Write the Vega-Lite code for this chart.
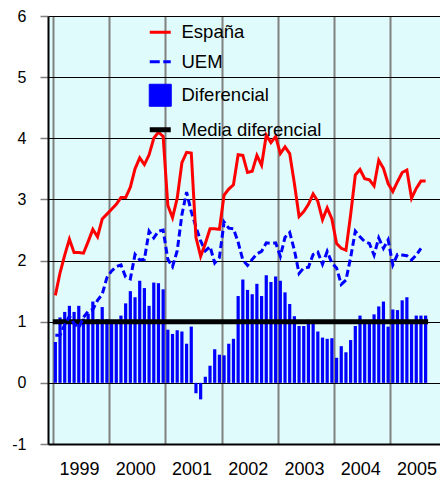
{
  "$schema": "https://vega.github.io/schema/vega-lite/v6.json",
  "width": 392,
  "height": 428,
  "autosize": {"type": "none"},
  "padding": {"left": 48, "top": 16, "right": 0, "bottom": 33},
  "background": "#ffffff",
  "config": {
    "view": {"fill": "#E0FBFB", "stroke": null},
    "font": "Liberation Sans",
    "legend": {"padding": 0}
  },
  "data": {
    "values": [
      {"fecha": "1999-01", "mes": 0, "espana": 1.43, "uem": 0.78, "dif": 0.67, "media": 1},
      {"fecha": "1999-02", "mes": 1, "espana": 1.8, "uem": 0.78, "dif": 1.07, "media": 1},
      {"fecha": "1999-03", "mes": 2, "espana": 2.09, "uem": 0.95, "dif": 1.16, "media": 1},
      {"fecha": "1999-04", "mes": 3, "espana": 2.35, "uem": 1.09, "dif": 1.26, "media": 1},
      {"fecha": "1999-05", "mes": 4, "espana": 2.13, "uem": 0.97, "dif": 1.16, "media": 1},
      {"fecha": "1999-06", "mes": 5, "espana": 2.13, "uem": 0.9, "dif": 1.26, "media": 1},
      {"fecha": "1999-07", "mes": 6, "espana": 2.12, "uem": 1.07, "dif": 1.05, "media": 1},
      {"fecha": "1999-08", "mes": 7, "espana": 2.31, "uem": 1.17, "dif": 1.13, "media": 1},
      {"fecha": "1999-09", "mes": 8, "espana": 2.51, "uem": 1.2, "dif": 1.33, "media": 1},
      {"fecha": "1999-10", "mes": 9, "espana": 2.39, "uem": 1.35, "dif": 1.04, "media": 1},
      {"fecha": "1999-11", "mes": 10, "espana": 2.68, "uem": 1.45, "dif": 1.24, "media": 1},
      {"fecha": "1999-12", "mes": 11, "espana": 2.76, "uem": 1.72, "dif": 1.04, "media": 1},
      {"fecha": "2000-01", "mes": 12, "espana": 2.84, "uem": 1.83, "dif": 1.03, "media": 1},
      {"fecha": "2000-02", "mes": 13, "espana": 2.92, "uem": 1.9, "dif": 1.03, "media": 1},
      {"fecha": "2000-03", "mes": 14, "espana": 3.03, "uem": 1.93, "dif": 1.1, "media": 1},
      {"fecha": "2000-04", "mes": 15, "espana": 3.03, "uem": 1.73, "dif": 1.3, "media": 1},
      {"fecha": "2000-05", "mes": 16, "espana": 3.2, "uem": 1.7, "dif": 1.5, "media": 1},
      {"fecha": "2000-06", "mes": 17, "espana": 3.5, "uem": 2.1, "dif": 1.4, "media": 1},
      {"fecha": "2000-07", "mes": 18, "espana": 3.68, "uem": 2.01, "dif": 1.67, "media": 1},
      {"fecha": "2000-08", "mes": 19, "espana": 3.57, "uem": 2.02, "dif": 1.55, "media": 1},
      {"fecha": "2000-09", "mes": 20, "espana": 3.73, "uem": 2.48, "dif": 1.26, "media": 1},
      {"fecha": "2000-10", "mes": 21, "espana": 4.0, "uem": 2.37, "dif": 1.64, "media": 1},
      {"fecha": "2000-11", "mes": 22, "espana": 4.1, "uem": 2.48, "dif": 1.63, "media": 1},
      {"fecha": "2000-12", "mes": 23, "espana": 4.03, "uem": 2.5, "dif": 1.53, "media": 1},
      {"fecha": "2001-01", "mes": 24, "espana": 2.9, "uem": 2.02, "dif": 0.87, "media": 1},
      {"fecha": "2001-02", "mes": 25, "espana": 2.7, "uem": 1.9, "dif": 0.8, "media": 1},
      {"fecha": "2001-03", "mes": 26, "espana": 3.02, "uem": 2.16, "dif": 0.86, "media": 1},
      {"fecha": "2001-04", "mes": 27, "espana": 3.6, "uem": 2.75, "dif": 0.84, "media": 1},
      {"fecha": "2001-05", "mes": 28, "espana": 3.77, "uem": 3.12, "dif": 0.64, "media": 1},
      {"fecha": "2001-06", "mes": 29, "espana": 3.76, "uem": 2.8, "dif": 0.92, "media": 1},
      {"fecha": "2001-07", "mes": 30, "espana": 2.38, "uem": 2.55, "dif": -0.17, "media": 1},
      {"fecha": "2001-08", "mes": 31, "espana": 2.07, "uem": 2.32, "dif": -0.27, "media": 1},
      {"fecha": "2001-09", "mes": 32, "espana": 2.28, "uem": 2.16, "dif": 0.1, "media": 1},
      {"fecha": "2001-10", "mes": 33, "espana": 2.52, "uem": 2.23, "dif": 0.28, "media": 1},
      {"fecha": "2001-11", "mes": 34, "espana": 2.52, "uem": 1.96, "dif": 0.55, "media": 1},
      {"fecha": "2001-12", "mes": 35, "espana": 2.51, "uem": 2.05, "dif": 0.46, "media": 1},
      {"fecha": "2002-01", "mes": 36, "espana": 3.07, "uem": 2.63, "dif": 0.45, "media": 1},
      {"fecha": "2002-02", "mes": 37, "espana": 3.17, "uem": 2.53, "dif": 0.64, "media": 1},
      {"fecha": "2002-03", "mes": 38, "espana": 3.24, "uem": 2.52, "dif": 0.72, "media": 1},
      {"fecha": "2002-04", "mes": 39, "espana": 3.73, "uem": 2.3, "dif": 1.42, "media": 1},
      {"fecha": "2002-05", "mes": 40, "espana": 3.72, "uem": 2.01, "dif": 1.69, "media": 1},
      {"fecha": "2002-06", "mes": 41, "espana": 3.44, "uem": 1.92, "dif": 1.52, "media": 1},
      {"fecha": "2002-07", "mes": 42, "espana": 3.46, "uem": 2.02, "dif": 1.45, "media": 1},
      {"fecha": "2002-08", "mes": 43, "espana": 3.72, "uem": 2.11, "dif": 1.62, "media": 1},
      {"fecha": "2002-09", "mes": 44, "espana": 3.56, "uem": 2.15, "dif": 1.42, "media": 1},
      {"fecha": "2002-10", "mes": 45, "espana": 4.05, "uem": 2.29, "dif": 1.76, "media": 1},
      {"fecha": "2002-11", "mes": 46, "espana": 3.93, "uem": 2.28, "dif": 1.65, "media": 1},
      {"fecha": "2002-12", "mes": 47, "espana": 4.03, "uem": 2.29, "dif": 1.74, "media": 1},
      {"fecha": "2003-01", "mes": 48, "espana": 3.75, "uem": 2.07, "dif": 1.67, "media": 1},
      {"fecha": "2003-02", "mes": 49, "espana": 3.86, "uem": 2.38, "dif": 1.48, "media": 1},
      {"fecha": "2003-03", "mes": 50, "espana": 3.75, "uem": 2.46, "dif": 1.29, "media": 1},
      {"fecha": "2003-04", "mes": 51, "espana": 3.26, "uem": 2.17, "dif": 1.09, "media": 1},
      {"fecha": "2003-05", "mes": 52, "espana": 2.72, "uem": 1.79, "dif": 0.93, "media": 1},
      {"fecha": "2003-06", "mes": 53, "espana": 2.8, "uem": 1.88, "dif": 0.93, "media": 1},
      {"fecha": "2003-07", "mes": 54, "espana": 2.92, "uem": 1.89, "dif": 1.03, "media": 1},
      {"fecha": "2003-08", "mes": 55, "espana": 3.09, "uem": 2.1, "dif": 1.01, "media": 1},
      {"fecha": "2003-09", "mes": 56, "espana": 2.97, "uem": 2.14, "dif": 0.84, "media": 1},
      {"fecha": "2003-10", "mes": 57, "espana": 2.67, "uem": 1.94, "dif": 0.74, "media": 1},
      {"fecha": "2003-11", "mes": 58, "espana": 2.86, "uem": 2.15, "dif": 0.72, "media": 1},
      {"fecha": "2003-12", "mes": 59, "espana": 2.68, "uem": 1.96, "dif": 0.73, "media": 1},
      {"fecha": "2004-01", "mes": 60, "espana": 2.28, "uem": 1.88, "dif": 0.41, "media": 1},
      {"fecha": "2004-02", "mes": 61, "espana": 2.2, "uem": 1.61, "dif": 0.6, "media": 1},
      {"fecha": "2004-03", "mes": 62, "espana": 2.17, "uem": 1.68, "dif": 0.5, "media": 1},
      {"fecha": "2004-04", "mes": 63, "espana": 2.75, "uem": 2.05, "dif": 0.7, "media": 1},
      {"fecha": "2004-05", "mes": 64, "espana": 3.4, "uem": 2.48, "dif": 0.93, "media": 1},
      {"fecha": "2004-06", "mes": 65, "espana": 3.49, "uem": 2.39, "dif": 1.1, "media": 1},
      {"fecha": "2004-07", "mes": 66, "espana": 3.34, "uem": 2.31, "dif": 1.03, "media": 1},
      {"fecha": "2004-08", "mes": 67, "espana": 3.32, "uem": 2.28, "dif": 1.03, "media": 1},
      {"fecha": "2004-09", "mes": 68, "espana": 3.22, "uem": 2.09, "dif": 1.12, "media": 1},
      {"fecha": "2004-10", "mes": 69, "espana": 3.64, "uem": 2.37, "dif": 1.25, "media": 1},
      {"fecha": "2004-11", "mes": 70, "espana": 3.51, "uem": 2.2, "dif": 1.33, "media": 1},
      {"fecha": "2004-12", "mes": 71, "espana": 3.26, "uem": 2.34, "dif": 0.92, "media": 1},
      {"fecha": "2005-01", "mes": 72, "espana": 3.13, "uem": 1.93, "dif": 1.2, "media": 1},
      {"fecha": "2005-02", "mes": 73, "espana": 3.29, "uem": 2.1, "dif": 1.19, "media": 1},
      {"fecha": "2005-03", "mes": 74, "espana": 3.44, "uem": 2.09, "dif": 1.35, "media": 1},
      {"fecha": "2005-04", "mes": 75, "espana": 3.48, "uem": 2.08, "dif": 1.4, "media": 1},
      {"fecha": "2005-05", "mes": 76, "espana": 3.02, "uem": 2.01, "dif": 1.01, "media": 1},
      {"fecha": "2005-06", "mes": 77, "espana": 3.18, "uem": 2.09, "dif": 1.1, "media": 1},
      {"fecha": "2005-07", "mes": 78, "espana": 3.3, "uem": 2.2, "dif": 1.1, "media": 1},
      {"fecha": "2005-08", "mes": 79, "espana": 3.3, "uem": null, "dif": 1.1, "media": 1}
    ]
  },
  "encoding": {
    "x": {
      "field": "mes",
      "type": "quantitative",
      "scale": {"domain": [-0.5, 81], "nice": false, "zero": false},
      "axis": {
        "title": null,
        "values": [-0.5, 11.5, 23.5, 35.5, 47.5, 59.5, 71.5],
        "grid": true,
        "gridColor": "#808080",
        "gridWidth": 2,
        "gridOpacity": 1,
        "ticks": false,
        "tickSize": 0,
        "domainColor": "#000000",
        "domainWidth": 2,
        "labelFont": "Liberation Sans",
        "labelFontSize": 18,
        "labelColor": "#000000",
        "labelPadding": 16,
        "labelOffset": 26,
        "labelBound": false,
        "labelOverlap": false,
        "labelFlush": false,
        "labelExpr": "'' + (1999 + round((datum.value + 0.5) / 12))"
      }
    }
  },
  "layer": [
    {
      "mark": {"type": "bar", "size": 3.2},
      "encoding": {
        "y": {
          "field": "dif",
          "type": "quantitative",
          "scale": {"domain": [-1, 6], "nice": false, "zero": false},
          "axis": {
            "title": null,
            "values": [-1, 0, 1, 2, 3, 4, 5, 6],
            "labelExpr": "'' + datum.value",
            "grid": true,
            "gridColor": "#000000",
            "gridWidth": 1,
            "gridOpacity": 1,
            "domainColor": "#000000",
            "domainWidth": 2,
            "tickColor": "#808080",
            "tickSize": 8,
            "tickWidth": 1.5,
            "labelFont": "Liberation Sans",
            "labelFontSize": 16,
            "labelColor": "#000000",
            "labelPadding": 14
          }
        },
        "color": {
          "datum": "Diferencial",
          "scale": {
            "domain": ["España", "UEM", "Diferencial", "Media diferencial"],
            "range": ["#FF0000", "#0000FF", "#0000FF", "#000000"]
          },
          "legend": {
            "title": null,
            "orient": "none",
            "legendX": 103,
            "legendY": 7,
            "labelFont": "Liberation Sans",
            "labelFontSize": 18.5,
            "labelColor": "#000000",
            "labelOffset": 12,
            "rowPadding": 10.5,
            "symbolSize": 441,
            "encode": {
              "symbols": {
                "update": {
                  "shape": {"signal": "datum.value === 'Diferencial' ? 'square' : 'stroke'"},
                  "size": {"signal": "datum.value === 'Diferencial' ? 484 : 441"},
                  "strokeWidth": {"signal": "datum.value === 'Media diferencial' ? 5 : (datum.value === 'Diferencial' ? 1 : 3)"},
                  "strokeDash": {"signal": "datum.value === 'UEM' ? [10, 3.5] : []"},
                  "fill": {"signal": "datum.value === 'Diferencial' ? '#0000FF' : 'transparent'"},
                  "stroke": {"signal": "datum.value === 'España' ? '#FF0000' : (datum.value === 'UEM' ? '#0000FF' : (datum.value === 'Diferencial' ? '#6A6AFF' : '#000000'))"},
                  "opacity": {"value": 1}
                }
              }
            }
          }
        }
      }
    },
    {
      "mark": {"type": "line", "strokeWidth": 5, "strokeCap": "square"},
      "encoding": {
        "y": {"field": "media", "type": "quantitative"},
        "color": {"datum": "Media diferencial"}
      }
    },
    {
      "mark": {"type": "line", "strokeWidth": 3, "strokeDash": [7, 3.5]},
      "encoding": {
        "y": {"field": "uem", "type": "quantitative"},
        "color": {"datum": "UEM"}
      }
    },
    {
      "mark": {"type": "line", "strokeWidth": 3},
      "encoding": {
        "y": {"field": "espana", "type": "quantitative"},
        "color": {"datum": "España"}
      }
    }
  ]
}
